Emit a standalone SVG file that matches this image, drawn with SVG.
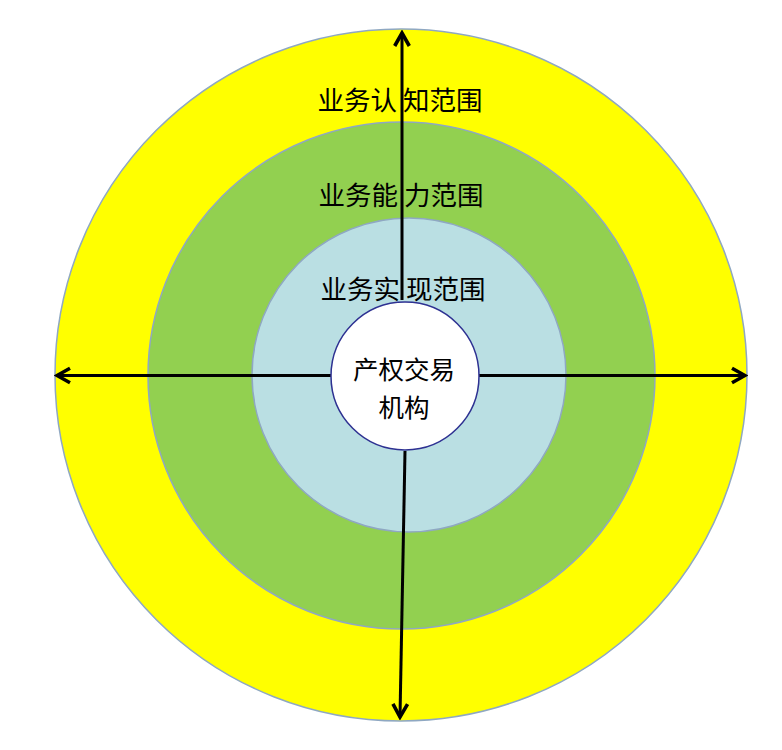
<svg xmlns="http://www.w3.org/2000/svg" width="782" height="750" viewBox="0 0 782 750">
<style>
.ring{stroke:#8FA8C2;stroke-width:1.5}
.lbl{font-family:"Noto Sans CJK SC","Noto Sans",sans-serif;font-size:26.5px;fill:#000}
.ctr{font-size:25.5px}
.ax{stroke:#000;stroke-width:3;fill:none}
</style>
<defs>
<marker id="ah" viewBox="0 0 12 12" refX="10" refY="6" markerWidth="6.5" markerHeight="6.5" orient="auto" markerUnits="strokeWidth">
<polyline points="2,1.5 10,6 2,10.5" fill="none" stroke="#000" stroke-width="2.2" stroke-linejoin="miter"/>
</marker>
</defs>
<rect width="782" height="750" fill="#fff"/>
<g id="outer"><circle class="ring" cx="401" cy="375" r="346" fill="#FFFF00"/><text class="lbl" x="400" y="110" text-anchor="middle" xml:space="preserve">业务认 知范围</text></g>
<g id="middle"><circle class="ring" cx="401.5" cy="375.5" r="253.5" fill="#92D050"/><text class="lbl" x="401" y="205" text-anchor="middle" xml:space="preserve">业务能 力范围</text></g>
<g id="inner"><circle class="ring" cx="409" cy="375" r="157" fill="#BADFE3"/><text class="lbl" x="403" y="299" text-anchor="middle" xml:space="preserve">业务实 现范围</text></g>
<g id="connectors">
<line class="ax" x1="402" y1="300" x2="402" y2="33" marker-end="url(#ah)"/>
<line class="ax" x1="405" y1="451" x2="400" y2="717" marker-end="url(#ah)"/>
<line class="ax" x1="331" y1="375.5" x2="57" y2="375.5" marker-end="url(#ah)"/>
<line class="ax" x1="479" y1="375.5" x2="745" y2="375.5" marker-end="url(#ah)"/>
</g>
<g id="center"><circle cx="405" cy="376" r="74" fill="#fff" stroke="#2E3192" stroke-width="1.5"/>
<text class="lbl ctr" x="404" y="379" text-anchor="middle">产权交易</text>
<text class="lbl ctr" x="404" y="417" text-anchor="middle">机构</text></g>
</svg>
